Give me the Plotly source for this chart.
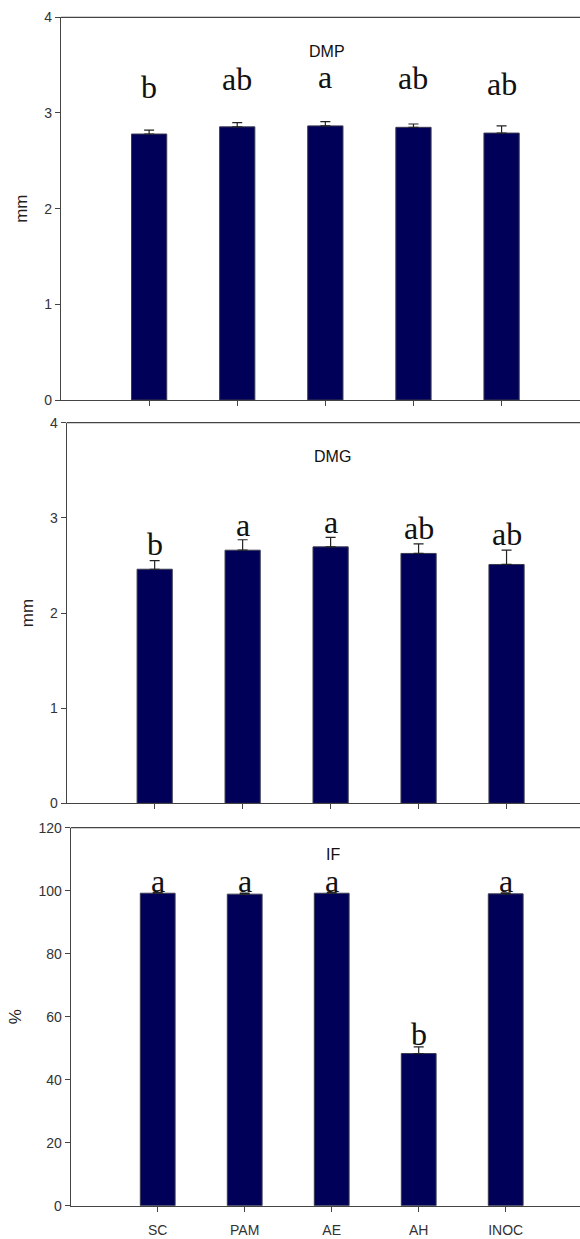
import plotly.graph_objects as go

categories = ["SC", "PAM", "AE", "AH", "INOC"]

dmp_values = [2.78, 2.855, 2.865, 2.85, 2.79]
dmp_errors = [0.04, 0.045, 0.045, 0.035, 0.075]
dmp_letters = ["b", "ab", "a", "ab", "ab"]
dmp_letter_y = [3.16, 3.24, 3.26, 3.25, 3.19]

dmg_values = [2.46, 2.66, 2.695, 2.626, 2.51]
dmg_errors = [0.09, 0.11, 0.10, 0.10, 0.15]
dmg_letters = ["b", "a", "a", "ab", "ab"]
dmg_letter_y = [2.61, 2.81, 2.84, 2.78, 2.71]

if_values = [99.2, 98.9, 99.2, 48.3, 99.0]
if_errors = [0.3, 0.3, 0.3, 2.1, 0.3]
if_letters = ["a", "a", "a", "b", "a"]
if_letter_y = [99.6, 99.6, 99.6, 51.0, 99.6]

panel_titles = ["DMP", "DMG", "IF"]
y_titles = ["mm", "mm", "%"]
y_ranges = [[0, 4], [0, 4], [0, 120]]
y_dtick = [1, 1, 20]

W, H = 580, 1239
# pixel layout of each panel: (axis left x, top y, bottom y, right range limit, title offset)
panels = [
    (61.0, 17.3, 400.0, 4.89, 34.5),
    (66.7, 422.7, 803.3, 4.835, 33.5),
    (70.7, 827.7, 1205.7, 4.854, 26.5),
]

BAR = "#000058"
AXIS = "#444444"
TICKF = dict(family="Liberation Sans, Arial", size=14, color="#333333")
LETTERF = dict(family="Liberation Serif, Times New Roman", size=32, color="#111111")

data_sets = [
    (dmp_values, dmp_errors, dmp_letters, dmp_letter_y),
    (dmg_values, dmg_errors, dmg_letters, dmg_letter_y),
    (if_values, if_errors, if_letters, if_letter_y),
]

fig = go.Figure()
layout = dict(
    width=W, height=H,
    margin=dict(l=0, r=0, t=0, b=0),
    paper_bgcolor="white", plot_bgcolor="white",
    showlegend=False,
    bargap=0.6,
)
annotations = []
shapes = []

for i, (vals, errs, letters, ly) in enumerate(data_sets):
    n = i + 1
    xa = "x" if n == 1 else f"x{n}"
    ya = "y" if n == 1 else f"y{n}"
    left, top, bot, rmax, toff = panels[i]
    fig.add_trace(go.Bar(
        x=list(range(len(categories))), y=vals,
        xaxis=xa, yaxis=ya,
        width=0.4,
        marker=dict(color=BAR, line=dict(color="#3a3a50", width=1)),
        error_y=dict(type="data", array=errs, arrayminus=[0] * len(errs),
                     symmetric=False, color="#222222", thickness=1.2, width=5),
    ))
    xkey = "xaxis" if n == 1 else f"xaxis{n}"
    ykey = "yaxis" if n == 1 else f"yaxis{n}"
    layout[xkey] = dict(
        domain=[left / W, 1], anchor=ya,
        range=[-1, rmax],
        tickmode="array", tickvals=list(range(len(categories))),
        ticktext=categories if n == 3 else [""] * len(categories),
        ticks="outside", ticklen=5, tickcolor=AXIS,
        showline=True, linecolor=AXIS, linewidth=1.2,
        showgrid=False, zeroline=False, tickfont=TICKF,
        ticklabelstandoff=6,
        automargin=False, fixedrange=True,
    )
    layout[ykey] = dict(
        domain=[1 - bot / H, 1 - top / H], anchor=xa,
        range=y_ranges[i], dtick=y_dtick[i], tick0=0,
        ticks="outside", ticklen=5, tickcolor=AXIS,
        showline=True, linecolor=AXIS, linewidth=1.2,
        showgrid=False, zeroline=False, tickfont=TICKF,
        title=dict(text=y_titles[i], font=dict(family="Liberation Sans, Arial", size=17, color="#222222"), standoff=12),
        automargin=False, fixedrange=True,
    )
    # top frame line
    shapes.append(dict(type="line", xref=f"{xa} domain", yref=f"{ya} domain",
                       x0=0, x1=1, y0=1, y1=1, line=dict(color=AXIS, width=1.2)))
    # panel title
    annotations.append(dict(text=panel_titles[i], xref=xa, yref=f"{ya} domain",
                            x=2.02, y=1 - toff / (bot - top), showarrow=False,
                            font=dict(family="Liberation Sans, Arial", size=16, color="#111111"),
                            xanchor="center", yanchor="middle"))
    for j, (lt, yv) in enumerate(zip(letters, ly)):
        annotations.append(dict(text=lt, xref=xa, yref=ya, x=j, y=yv,
                                showarrow=False, font=LETTERF,
                                xanchor="center", yanchor="bottom", yshift=-9))

layout["annotations"] = annotations
layout["shapes"] = shapes
fig.update_layout(**layout)
fig.write_html("out.html")
